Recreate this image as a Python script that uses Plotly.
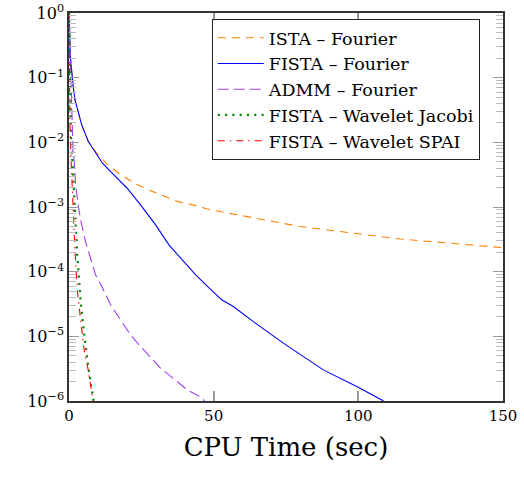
import plotly.graph_objects as go

# ---- data ----
ista_x = [0, 0.5, 1.5, 2.1, 4.4, 6.7, 9.6, 12.7, 17.3, 22.5, 27.7, 32.8, 38.0, 43.2, 47.8, 52.2, 66.0, 79.8, 107.5, 114.4, 150.0]
ista_y = [1.0, 0.2, 0.07, 0.045, 0.0186, 0.0103, 0.0068, 0.0048, 0.0033, 0.00234, 0.00182, 0.00148, 0.0012, 0.00107, 0.00093, 0.00085, 0.00065, 0.0005, 0.000349, 0.00032, 0.000235]

fista_x = [0, 0.5, 1.5, 2.07, 4.39, 6.67, 8.6, 11.5, 15.0, 20.1, 24.8, 30.0, 34.6, 40.3, 43.8, 48.4, 52.78, 56.79, 63.71, 74.08, 87.9, 99.45, 108.1, 110.0]
fista_y = [1.0, 0.2, 0.07, 0.0452, 0.0186, 0.0103, 0.0076, 0.0048, 0.0033, 0.00195, 0.00107, 0.000525, 0.000257, 0.000135, 8.9e-5, 5.6e-5, 3.67e-5, 2.89e-5, 1.69e-5, 7.85e-6, 3.03e-6, 1.68e-6, 1.04e-6, 0.9e-6]

admm_x = [0, 0.4, 0.9, 1.1, 1.4, 1.8, 2.3, 3.2, 4.0, 5.8, 6.9, 9.2, 11.0, 14.4, 16.7, 21.3, 23.6, 28.8, 31.7, 38.0, 40.9, 46.1, 47.5]
admm_y = [1.0, 0.25, 0.05, 0.0158, 0.0071, 0.005, 0.00219, 0.00107, 0.00063, 0.000282, 0.000195, 8.9e-5, 6.3e-5, 3.09e-5, 2.14e-5, 1.05e-5, 7.9e-6, 4.4e-6, 3.2e-6, 1.9e-6, 1.48e-6, 1.12e-6, 0.89e-6]

jac_x = [0, 0.35, 0.58, 0.69, 1.15, 1.73, 2.3, 2.88, 3.46, 4.0, 4.84, 5.4, 6.3, 7.1, 8.4, 8.6]
jac_y = [1.0, 0.09, 0.034, 0.012, 0.0054, 0.00145, 0.0005, 0.00017, 7.9e-5, 3.5e-5, 1.58e-5, 9.3e-6, 4.4e-6, 2.5e-6, 1.15e-6, 0.95e-6]

spai_x = [0, 0.1, 0.3, 0.6, 0.9, 1.4, 1.7, 2.07, 2.9, 4.4, 5.2, 6.6, 7.8, 8.3, 8.4]
spai_y = [1.0, 0.2, 0.02, 0.007, 0.0035, 0.0008, 0.00045, 0.00021, 5e-5, 1.25e-5, 6.2e-6, 3.1e-6, 1.4e-6, 1.0e-6, 0.95e-6]

names = ["ISTA \u2013 Fourier", "FISTA \u2013 Fourier", "ADMM \u2013 Fourier",
         "FISTA \u2013 Wavelet Jacobi", "FISTA \u2013 Wavelet SPAI"]

x_ticks = [0, 50, 100, 150]
y_exps = [0, -1, -2, -3, -4, -5, -6]
y_ticks = [10.0 ** e for e in y_exps]
y_ticktext = ["10<sup>%s</sup>" % (str(e).replace("-", "\u2212")) for e in y_exps]
minor_vals = [m * 10.0 ** e for e in y_exps[1:] for m in range(2, 10)]

FONT = "DejaVu Serif"

series = [
    (ista_x, ista_y, "rgb(255,128,0)", "8px,6px", 1.1),
    (fista_x, fista_y, "rgb(0,0,255)", "solid", 1.1),
    (admm_x, admm_y, "rgb(160,64,240)", "11px,5px", 1.1),
    (jac_x, jac_y, "rgb(0,128,0)", "2px,5.3px", 2.2),
    (spai_x, spai_y, "rgb(255,0,0)", "7px,5px,1.5px,5px", 1.1),
]

fig = go.Figure()
for i, (xs, ys, col, dash, w) in enumerate(series):
    fig.add_trace(go.Scatter(
        x=xs, y=ys, mode="lines", name=names[i], legendgroup=str(i),
        line=dict(color=col, dash=dash, width=w),
    ))

fig.update_layout(
    width=524, height=477,
    margin=dict(l=69, r=21, t=13, b=76),
    paper_bgcolor="white", plot_bgcolor="white",
    font=dict(family=FONT, size=15, color="black"),
    showlegend=True,
    legend=dict(
        x=0.329, y=0.985, xanchor="left", yanchor="top",
        bgcolor="white", bordercolor="#222", borderwidth=1,
        font=dict(family=FONT, size=17.5),
        tracegroupgap=0, itemwidth=46,
    ),
    xaxis=dict(
        range=[0, 150], tickvals=x_ticks, ticks="inside", ticklen=10,
        tickcolor="#999999", tickwidth=1.5, automargin=False,
        ticklabeloverflow="allow",
        showline=True, linecolor="#333333", linewidth=1.5, mirror="allticks",
        showgrid=False, zeroline=False,
        tickfont=dict(family=FONT, size=15),
        title=dict(text="CPU Time (sec)", font=dict(family=FONT, size=26), standoff=14),
    ),
    yaxis=dict(
        type="log", range=[-6, 0], tickvals=y_ticks, ticktext=y_ticktext,
        ticks="inside", ticklen=10, tickcolor="#999999", tickwidth=1.2,
        automargin=False, ticklabeloverflow="allow",
        showline=True, linecolor="#333333", linewidth=1.5, mirror="allticks",
        showgrid=False, zeroline=False,
        tickfont=dict(family=FONT, size=16),
        minor=dict(tickvals=minor_vals, ticks="inside", ticklen=7,
                   tickcolor="#bbbbbb", tickwidth=1.2, showgrid=False),
    ),
)

# remove the default 8px page margin so the figure sits at the window origin
fig.write_html("out.html", config={"displayModeBar": False},
               post_script="document.body.style.margin='0';")
